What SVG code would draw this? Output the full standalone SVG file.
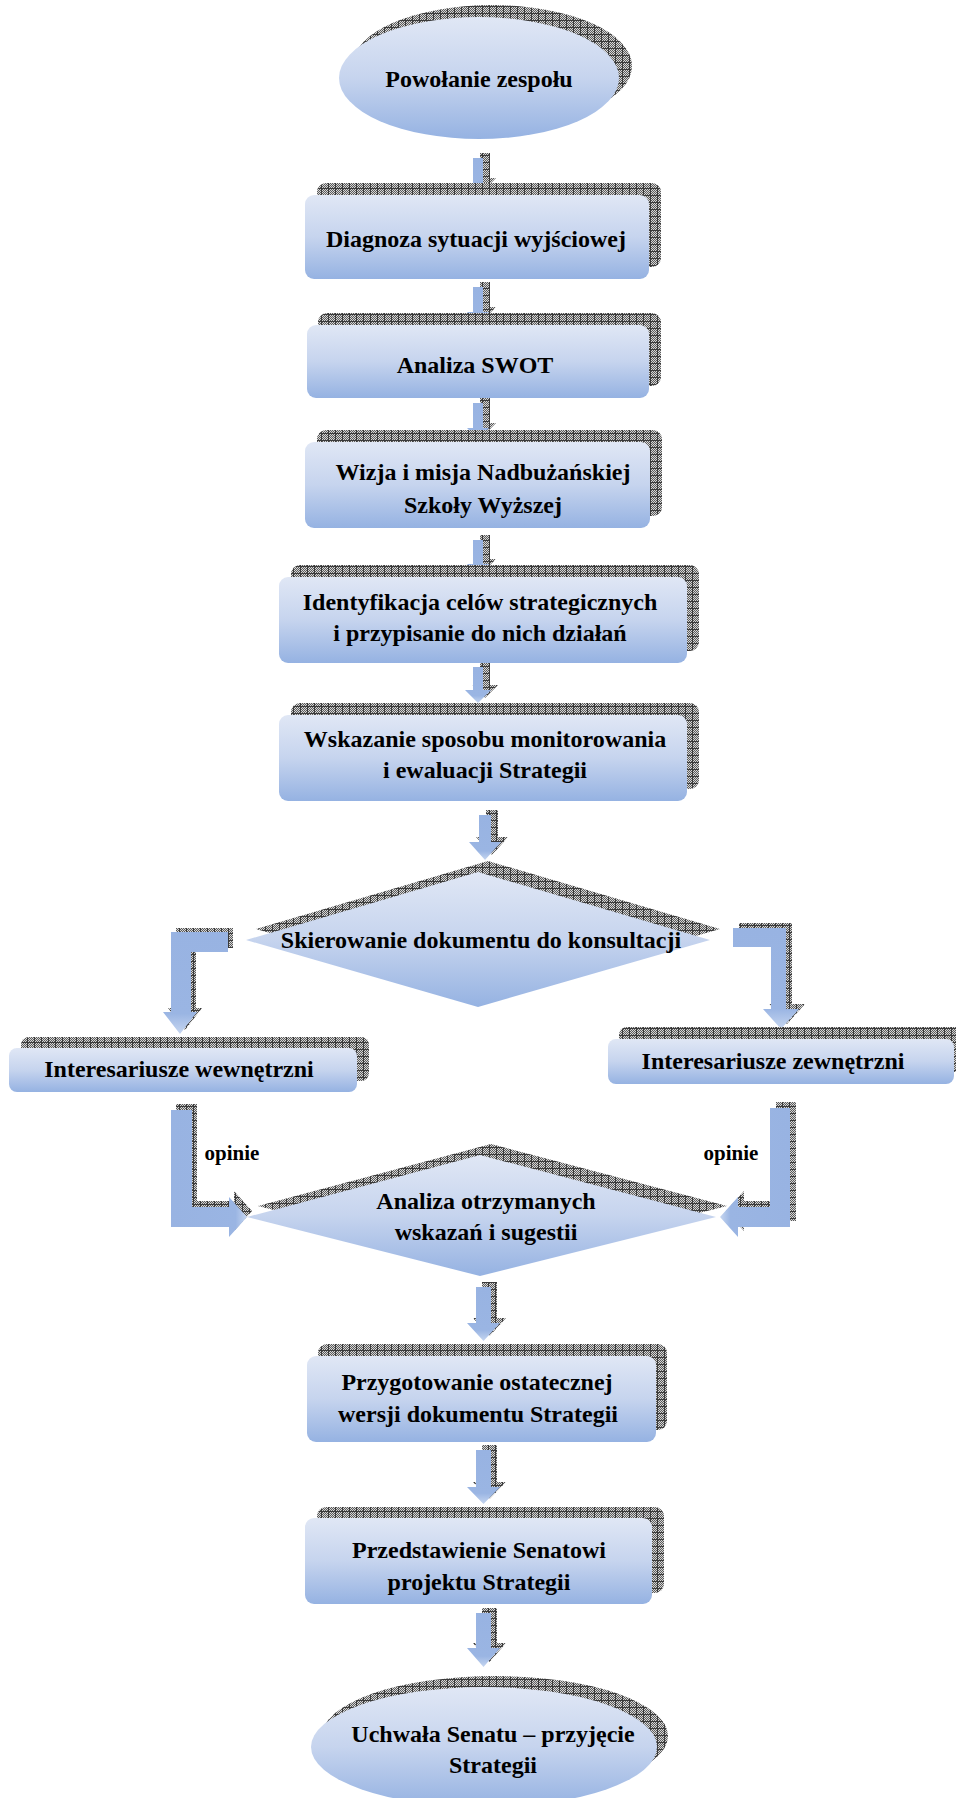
<svg xmlns="http://www.w3.org/2000/svg" width="956" height="1798" viewBox="0 0 956 1798">
<defs>
<linearGradient id="nodeFill" x1="0" y1="0" x2="0" y2="1">
<stop offset="0" stop-color="#e0e7f5"/>
<stop offset="0.5" stop-color="#c6d4ee"/>
<stop offset="1" stop-color="#95b2e2"/>
</linearGradient>
<linearGradient id="arrowV" x1="0" y1="0" x2="0" y2="1">
<stop offset="0" stop-color="#98b3e2"/>
<stop offset="0.8" stop-color="#9ab5e3"/>
<stop offset="1" stop-color="#c6d6f0"/>
</linearGradient>
<linearGradient id="arrowR" x1="0" y1="0" x2="1" y2="0">
<stop offset="0" stop-color="#98b3e2"/>
<stop offset="0.85" stop-color="#9ab5e3"/>
<stop offset="1" stop-color="#c6d6f0"/>
</linearGradient>
<linearGradient id="arrowL" x1="1" y1="0" x2="0" y2="0">
<stop offset="0" stop-color="#98b3e2"/>
<stop offset="0.85" stop-color="#9ab5e3"/>
<stop offset="1" stop-color="#c6d6f0"/>
</linearGradient>
<pattern id="chk" width="2" height="2" patternUnits="userSpaceOnUse">
<rect width="2" height="2" fill="#d6d6d6"/>
<rect width="1" height="1" fill="#5a5a5a"/>
<rect x="1" y="1" width="1" height="1" fill="#5a5a5a"/>
</pattern>
<pattern id="hatch" width="7" height="7" patternUnits="userSpaceOnUse">
<rect width="7" height="7" fill="url(#chk)"/>
<path d="M0 6.5H7M6.5 0V7" stroke="#3a3a3a" stroke-width="1"/>
</pattern>
</defs>
<style>
.sh{fill:url(#hatch)}
.nd{fill:url(#nodeFill)}
.av{fill:url(#arrowV)}
.ar{fill:url(#arrowR)}
.al{fill:url(#arrowL)}
text{font-family:"Liberation Serif","Times New Roman",serif;font-weight:bold;font-size:24px;fill:#000;text-anchor:middle}
.small{font-size:21px}
</style>

<g id="connectors">
<!-- small down arrows -->
<g id="a1"><path class="sh" transform="translate(7,-5)" d="M473 158H483V183H489L478 194L467 183H473Z"/><path class="av" d="M473 158H483V183H489L478 194L467 183H473Z"/></g>
<g id="a2"><path class="sh" transform="translate(7,-5)" d="M473 287H483V312H489L478 323L467 312H473Z"/><path class="av" d="M473 287H483V312H489L478 323L467 312H473Z"/></g>
<g id="a3"><path class="sh" transform="translate(7,-5)" d="M473 403H483V428H489L478 439L467 428H473Z"/><path class="av" d="M473 403H483V428H489L478 439L467 428H473Z"/></g>
<g id="a4"><path class="sh" transform="translate(7,-5)" d="M473 540H483V564H489L478 575L467 564H473Z"/><path class="av" d="M473 540H483V564H489L478 575L467 564H473Z"/></g>
<g id="a5"><path class="sh" transform="translate(7,-5)" d="M473 667H483V690H491L478 703L465 690H473Z"/><path class="av" d="M473 667H483V690H491L478 703L465 690H473Z"/></g>
<g id="a6"><path class="sh" transform="translate(7,-5)" d="M479 815H491V842H501L485 860L469 842H479Z"/><path class="av" d="M479 815H491V842H501L485 860L469 842H479Z"/></g>
<g id="a7"><path class="sh" transform="translate(6,-5)" d="M476 1287H491V1323H500L483.5 1341L467 1323H476Z"/><path class="av" d="M476 1287H491V1323H500L483.5 1341L467 1323H476Z"/></g>
<g id="a8"><path class="sh" transform="translate(6,-5)" d="M476 1450H491V1487H500L483.5 1504L467 1487H476Z"/><path class="av" d="M476 1450H491V1487H500L483.5 1504L467 1487H476Z"/></g>
<g id="a9"><path class="sh" transform="translate(6,-5)" d="M476 1613H491V1648H500L483.5 1667L467 1648H476Z"/><path class="av" d="M476 1613H491V1648H500L483.5 1667L467 1648H476Z"/></g>
<!-- elbow arrows -->
<g id="e1"><path class="sh" transform="translate(5,-4)" d="M228 932H171V1012H163L180 1034L197 1012H191V952H228Z"/><path class="av" d="M228 932H171V1012H163L180 1034L197 1012H191V952H228Z"/></g>
<g id="e2"><path class="sh" transform="translate(6,-5)" d="M733 928H786V1009H799L781 1029L763 1009H771V947H733Z"/><path class="av" d="M733 928H786V1009H799L781 1029L763 1009H771V947H733Z"/></g>
<g id="e3"><path class="sh" transform="translate(5,-6)" d="M171 1110H192V1207H229V1197L247 1217L229 1237V1227H171Z"/><path class="ar" d="M171 1110H192V1207H229V1197L247 1217L229 1237V1227H171Z"/></g>
<g id="e4"><path class="sh" transform="translate(6,-6)" d="M770 1108H790V1227H738V1237L720 1217L738 1197V1207H770Z"/><path class="al" d="M770 1108H790V1227H738V1237L720 1217L738 1197V1207H770Z"/></g>
<text class="small" x="232" y="1160">opinie</text>
<text class="small" x="731" y="1160">opinie</text>
</g>

<g id="n-powolanie">
<ellipse class="sh" cx="492" cy="66" rx="140" ry="61"/>
<ellipse class="nd" cx="479" cy="78" rx="140" ry="61"/>
<text x="479" y="87">Powołanie zespołu</text>
</g>

<g id="n-diagnoza">
<rect class="sh" x="317" y="183" width="344" height="84" rx="9"/>
<rect class="nd" x="305" y="195" width="344" height="84" rx="9"/>
<text x="476" y="247">Diagnoza sytuacji wyjściowej</text>
</g>

<g id="n-swot">
<rect class="sh" x="318" y="313" width="343" height="73" rx="9"/>
<rect class="nd" x="307" y="325" width="342" height="73" rx="9"/>
<text x="475" y="373">Analiza SWOT</text>
</g>

<g id="n-wizja">
<rect class="sh" x="317" y="430" width="345" height="86" rx="9"/>
<rect class="nd" x="305" y="442" width="345" height="86" rx="9"/>
<text x="483" y="480">Wizja i misja Nadbużańskiej</text>
<text x="483" y="513">Szkoły Wyższej</text>
</g>

<g id="n-identyfikacja">
<rect class="sh" x="291" y="565" width="408" height="86" rx="9"/>
<rect class="nd" x="279" y="577" width="408" height="86" rx="9"/>
<text x="480" y="610">Identyfikacja celów strategicznych</text>
<text x="480" y="641">i przypisanie do nich działań</text>
</g>

<g id="n-wskazanie">
<rect class="sh" x="291" y="703" width="408" height="86" rx="9"/>
<rect class="nd" x="279" y="715" width="408" height="86" rx="9"/>
<text x="485" y="747">Wskazanie sposobu monitorowania</text>
<text x="485" y="778">i ewaluacji Strategii</text>
</g>

<g id="n-skierowanie">
<polygon class="sh" points="488,861 720,929 488,996 256,929"/>
<polygon class="nd" points="478,872 710,940 478,1007 246,940"/>
<text x="481" y="948">Skierowanie dokumentu do konsultacji</text>
</g>

<g id="n-wewnetrzni">
<rect class="sh" x="21" y="1037" width="348" height="44" rx="8"/>
<rect class="nd" x="9" y="1048" width="348" height="44" rx="8"/>
<text x="179" y="1077">Interesariusze wewnętrzni</text>
</g>

<g id="n-zewnetrzni">
<rect class="sh" x="619" y="1027" width="346" height="45" rx="8"/>
<rect class="nd" x="608" y="1039" width="346" height="45" rx="8"/>
<text x="773" y="1069">Interesariusze zewnętrzni</text>
</g>

<g id="n-analiza">
<polygon class="sh" points="491,1144 727,1206 491,1265 258,1206"/>
<polygon class="nd" points="480,1155 716,1217 480,1276 247,1217"/>
<text x="486" y="1209">Analiza otrzymanych</text>
<text x="486" y="1240">wskazań i sugestii</text>
</g>

<g id="n-przygotowanie">
<rect class="sh" x="318" y="1344" width="349" height="86" rx="9"/>
<rect class="nd" x="307" y="1356" width="349" height="86" rx="9"/>
<text x="477" y="1390">Przygotowanie ostatecznej</text>
<text x="478" y="1422">wersji dokumentu Strategii</text>
</g>

<g id="n-przedstawienie">
<rect class="sh" x="317" y="1507" width="347" height="86" rx="9"/>
<rect class="nd" x="305" y="1518" width="347" height="86" rx="9"/>
<text x="479" y="1558">Przedstawienie Senatowi</text>
<text x="479" y="1590">projektu Strategii</text>
</g>

<g id="n-uchwala">
<ellipse class="sh" cx="495" cy="1736" rx="173" ry="60"/>
<ellipse class="nd" cx="484" cy="1747" rx="173" ry="60"/>
<text x="493" y="1742">Uchwała Senatu – przyjęcie</text>
<text x="493" y="1773">Strategii</text>
</g>
</svg>
